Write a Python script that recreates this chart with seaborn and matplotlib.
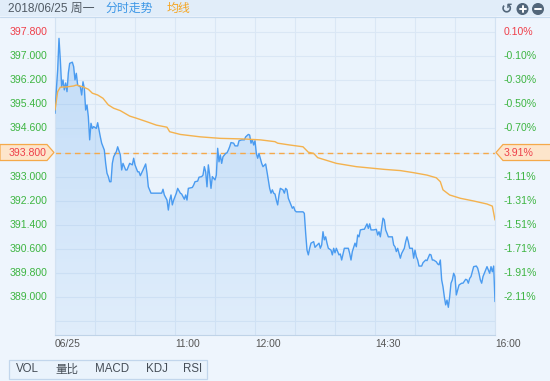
import numpy as np
import pandas as pd
import matplotlib
matplotlib.use("Agg")
import matplotlib.pyplot as plt
from matplotlib.colors import to_rgb
from matplotlib.patches import Polygon, Rectangle, Circle
import seaborn as sns

# ---- data (minute index from 09:30, lunch break removed) ----
price_minute = [
    0, 1, 2, 3, 4, 5, 6, 7, 8, 9, 10, 11, 13, 14, 15, 16, 17, 19, 20, 21, 22, 23, 24, 25, 26,
    27, 28, 29, 31, 32, 34, 35, 37, 38, 39, 40, 41, 42, 43, 44, 46, 47, 49, 50, 51, 53, 54, 56,
    58, 59, 60, 62, 63, 64, 66, 68, 69, 70, 72, 76, 80, 81, 82, 84, 85, 86, 87, 88, 89, 91, 92,
    94, 95, 97, 98, 99, 100, 103, 104, 105, 107, 108, 110, 111, 112, 113, 114, 115, 116, 117,
    118, 120, 121, 122, 123, 124, 125, 126, 128, 129, 130, 131, 132, 134, 135, 137, 138, 140,
    142, 143, 145, 146, 147, 148, 149, 150, 151, 152, 153, 155, 156, 158, 159, 161, 162, 163,
    164, 165, 166, 167, 168, 169, 171, 172, 173, 174, 175, 177, 178, 179, 180, 181, 186, 187,
    188, 189, 190, 191, 192, 194, 195, 196, 198, 199, 200, 201, 202, 203, 204, 205, 207, 208,
    209, 210, 211, 213, 214, 215, 217, 220, 221, 222, 223, 225, 226, 227, 228, 229, 231, 232,
    234, 235, 236, 237, 239, 241, 242, 243, 244, 246, 247, 248, 249, 250, 253, 254, 255, 256,
    257, 258, 259, 260, 262, 263, 264, 265, 266, 268, 269, 270, 271, 272, 273, 275, 276, 278,
    279, 281, 282, 283, 284, 286, 287, 288, 289, 290, 291, 292, 293, 294, 295, 296, 297, 298,
    299, 300, 301, 302, 303, 305, 306, 308, 309, 310, 311, 312, 314, 316, 317, 318, 319, 320,
    321, 322, 323, 324, 325, 326, 327, 328, 329, 330,
]
price_value = [
    395.10, 395.88, 396.54, 397.59, 396.87, 395.98, 396.21, 395.88, 396.11, 395.82, 396.44,
    396.76, 396.80, 396.65, 396.21, 396.43, 396.04, 395.98, 395.71, 396.15, 395.93, 395.21,
    395.38, 394.99, 394.22, 394.77, 394.60, 394.66, 394.60, 394.79, 394.32, 394.11, 393.88,
    393.44, 393.11, 393.00, 392.83, 392.83, 393.44, 393.66, 393.83, 393.99, 393.72, 393.22,
    393.44, 393.22, 393.22, 393.44, 393.39, 393.61, 393.39, 393.16, 393.16, 393.03, 393.22,
    393.42, 393.11, 392.66, 392.45, 392.45, 392.45, 392.58, 392.39, 392.22, 391.89, 392.22,
    392.39, 392.06, 392.22, 392.45, 392.61, 392.45, 392.42, 392.25, 392.39, 392.22, 392.61,
    392.64, 392.72, 392.83, 392.85, 392.98, 393.00, 393.05, 393.33, 393.16, 392.66, 393.39,
    393.05, 392.61, 393.00, 392.89, 393.05, 393.94, 393.49, 393.72, 393.44, 393.66, 393.77,
    393.79, 393.88, 393.99, 394.13, 394.11, 394.02, 394.02, 394.19, 394.22, 394.22, 394.32,
    394.40, 394.38, 394.11, 394.22, 394.05, 394.19, 393.77, 393.61, 393.77, 393.44, 393.33,
    393.42, 393.16, 392.61, 392.45, 392.56, 392.45, 392.42, 392.22, 392.06, 392.39, 392.61,
    392.56, 392.45, 392.61, 392.56, 392.28, 392.06, 391.95, 392.00, 391.87, 391.83, 391.83,
    391.78, 391.12, 390.56, 390.40, 390.62, 390.79, 390.84, 390.65, 390.70, 390.79, 390.62,
    390.73, 391.17, 390.90, 391.00, 390.79, 390.62, 390.56, 390.40, 390.62, 390.47, 390.62,
    390.40, 390.43, 390.23, 390.62, 390.62, 390.45, 390.23, 390.51, 390.79, 390.67, 391.06,
    391.00, 391.23, 391.25, 391.25, 391.43, 391.28, 391.43, 391.23, 391.23, 391.25, 391.06,
    391.17, 391.00, 391.62, 391.56, 391.23, 391.12, 391.00, 391.00, 390.73, 390.67, 390.51,
    390.62, 390.45, 390.29, 390.45, 390.62, 390.84, 391.00, 390.84, 390.62, 390.62, 390.29,
    390.56, 390.34, 390.23, 390.03, 390.03, 390.14, 390.23, 390.21, 390.42, 390.40, 390.23,
    390.23, 390.17, 390.10, 390.07, 390.23, 389.57, 389.34, 389.01, 388.74, 388.90, 388.66,
    389.01, 389.46, 389.57, 389.79, 389.68, 389.07, 389.24, 389.40, 389.46, 389.46, 389.59,
    389.57, 389.46, 389.62, 389.68, 390.01, 390.03, 389.96, 389.79, 389.57, 389.46, 389.68,
    389.79, 389.90, 390.01, 389.90, 389.79, 390.01, 389.84, 390.03, 388.85,
]
avg_minute = [0, 2, 4, 9, 14, 16, 21, 25, 28, 32, 36, 40, 44, 49, 56, 61, 69, 76, 84, 86, 94,
              109, 124, 141, 154, 165, 167, 176, 186, 190, 194, 197, 211, 226, 247, 259, 269,
              279, 286, 289, 291, 296, 304, 314, 324, 328, 330]
avg_value = [395.21, 395.82, 395.97, 395.98, 396.01, 396.04, 395.98, 395.90, 395.77, 395.71,
             395.60, 395.38, 395.27, 395.19, 395.01, 394.94, 394.82, 394.71, 394.64, 394.49,
             394.40, 394.32, 394.27, 394.25, 394.22, 394.16, 394.11, 394.05, 393.99, 393.81,
             393.77, 393.63, 393.44, 393.33, 393.24, 393.20, 393.13, 393.05, 392.96, 392.83,
             392.56, 392.39, 392.28, 392.19, 392.09, 392.02, 391.56]

prev_close = 393.8
left_ticks = [389.0, 389.8, 390.6, 391.4, 392.2, 393.0, 393.8, 394.6, 395.4, 396.2, 397.0, 397.8]
right_labels = ["-2.11%", "-1.91%", "-1.71%", "-1.51%", "-1.31%", "-1.11%", "3.91%",
                "-0.70%", "-0.50%", "-0.30%", "-0.10%", "0.10%"]
x_ticks = [0, 90, 150, 240, 330]
x_tick_labels = ["06/25", "11:00", "12:00", "14:30", "16:00"]
tabs = ["VOL", "量比", "MACD", "KDJ", "RSI"]
tab_x = [16, 55, 95, 146, 183]

W, H = 550, 381
TOP, BOTTOM, LEFT, RIGHT = 17, 335, 55, 495
GREEN, RED, ORANGE, BLUE = "#3DB541", "#EE3F4A", "#F5A94A", "#4A9BF0"

sns.set_theme(style="white")
plt.rcParams["font.family"] = ["Liberation Sans", "Noto Sans CJK SC", "DejaVu Sans"]

fig = plt.figure(figsize=(W / 100, H / 100), dpi=100, facecolor="#EEF5FD")
ax = fig.add_axes([LEFT / W, (H - BOTTOM) / H, (RIGHT - LEFT) / W, (BOTTOM - TOP) / H])
ax.set_facecolor("#EAF3FC")

df = pd.DataFrame({"minute": price_minute, "price": price_value})
avg = pd.DataFrame({"minute": avg_minute, "price": avg_value})
ymin, ymax = 387.74, 398.30

# gradient area under the price line
verts = list(zip(df["minute"], df["price"])) + [(330, ymin), (0, ymin)]
clip = Polygon(verts, closed=True, facecolor="none", edgecolor="none")
ax.add_patch(clip)
grad = np.zeros((100, 1, 4))
grad[..., :3] = to_rgb("#5AA2EE")
grad[:, 0, 3] = np.linspace(0.30, 0.07, 100)
im = ax.imshow(grad, extent=[0, 330, ymin, ymax], aspect="auto", origin="upper", zorder=1)
im.set_clip_path(clip)

sns.lineplot(data=df, x="minute", y="price", ax=ax, color=BLUE, linewidth=1.0, zorder=3)
sns.lineplot(data=avg, x="minute", y="price", ax=ax, color="#F4B24E", linewidth=1.0, zorder=3)
ax.axhline(prev_close, color=ORANGE, lw=1.0, dashes=(4, 3), zorder=2)

ax.set_xlim(0, 330)
ax.set_ylim(ymin, ymax)
ax.set_xticks(range(0, 331, 30))
ax.set_yticks([388.2] + left_ticks)
ax.grid(True, color="#DAE7F5", lw=0.8)
ax.tick_params(labelleft=False, labelbottom=False, length=0)
ax.set_xlabel("")
ax.set_ylabel("")
for side, sp in ax.spines.items():
    sp.set_color("#D3E2F2")
    sp.set_linewidth(0.8)
ax.spines["bottom"].set_color("#BFD3E8")

# axis labels
ytr = ax.get_yaxis_transform()
for val, pct in zip(left_ticks, right_labels):
    if val == prev_close:
        continue
    c = RED if val > prev_close + 3.9 else GREEN
    ax.text(-0.018, val, f"{val:.3f}", transform=ytr, ha="right", va="center",
            fontsize=7.6, color=c)
    c2 = RED if not pct.startswith("-") else GREEN
    ax.text(1.02, val, pct, transform=ytr, ha="left", va="center", fontsize=7.6, color=c2)

xtr = ax.get_xaxis_transform()
for m, lab in zip(x_ticks, x_tick_labels):
    ax.text(m, -0.027, lab, transform=xtr, ha="left", va="center", fontsize=7.4, color="#555555")

# overlay in pixel coordinates for header, tags and tabs
ov = fig.add_axes([0, 0, 1, 1])
ov.set_xlim(0, W)
ov.set_ylim(H, 0)
ov.axis("off")
ov.patch.set_alpha(0)

ov.add_patch(Rectangle((0, 0), W, 16, facecolor="#E1EDF9", edgecolor="none"))
ov.plot([0, W], [16.5, 16.5], color="#C6DAEE", lw=0.8)
ov.text(8, 9, "2018/06/25 周一", ha="left", va="center", fontsize=8.6, color="#505A64")
ov.text(106, 9, "分时走势", ha="left", va="center", fontsize=8.6, color="#3D97E6")
ov.text(167, 9, "均线", ha="left", va="center", fontsize=8.6, color="#F5A623")

icon = "#52667A"
ov.text(507, 9.5, "↺", ha="center", va="center", fontsize=10, color=icon,
        family="DejaVu Sans", fontweight="bold")
ov.add_patch(Circle((522.5, 9), 5.3, color=icon))
ov.plot([519.5, 525.5], [9, 9], color="white", lw=1.4)
ov.plot([522.5, 522.5], [6, 12], color="white", lw=1.4)
ov.add_patch(Circle((538, 9), 5.3, color=icon))
ov.plot([535, 541], [9, 9], color="white", lw=1.4)

yc = TOP + (ymax - prev_close) / (ymax - ymin) * (BOTTOM - TOP)
ov.add_patch(Polygon([(0, yc - 8), (47, yc - 8), (54, yc), (47, yc + 8), (0, yc + 8)],
                     closed=True, facecolor="#FDE5CB", edgecolor=ORANGE, lw=0.9))
ov.text(46, yc, f"{prev_close:.3f}", ha="right", va="center", fontsize=7.6, color=RED)
ov.add_patch(Polygon([(496, yc), (503, yc - 8), (551, yc - 8), (551, yc + 8), (503, yc + 8)],
                     closed=True, facecolor="#FDE5CB", edgecolor=ORANGE, lw=0.9))
ov.text(504, yc, right_labels[6], ha="left", va="center", fontsize=7.6, color=RED)

ov.add_patch(Rectangle((8.5, 359.5), 198.5, 19, facecolor="#EAF3FC", edgecolor="#C2D6EC", lw=0.9))
for tx, t in zip(tab_x, tabs):
    ov.text(tx, 369.5, t, ha="left", va="center", fontsize=8.3, color="#454D56")

fig.savefig("out.png", dpi=100, facecolor=fig.get_facecolor())
